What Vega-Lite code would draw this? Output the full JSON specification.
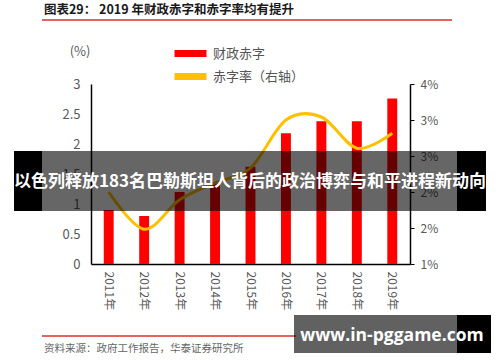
{
  "$schema": "https://vega.github.io/schema/vega-lite/v6.json",
  "width": 319,
  "height": 180,
  "autosize": {"type": "none"},
  "padding": {"left": 91, "top": 84, "right": 90, "bottom": 98},
  "background": "white",
  "config": {"view": {"stroke": null}, "font": "Noto Sans CJK SC"},
  "datasets": {
    "fiscal": [
      {"year": "2011年", "deficit": 0.9, "rate": 2.2},
      {"year": "2012年", "deficit": 0.8, "rate": 1.58},
      {"year": "2013年", "deficit": 1.2, "rate": 2.07},
      {"year": "2014年", "deficit": 1.35, "rate": 2.35},
      {"year": "2015年", "deficit": 1.62, "rate": 2.6},
      {"year": "2016年", "deficit": 2.18, "rate": 3.4},
      {"year": "2017年", "deficit": 2.38, "rate": 3.45},
      {"year": "2018年", "deficit": 2.38, "rate": 2.93},
      {"year": "2019年", "deficit": 2.76, "rate": 3.18}
    ],
    "one": [{}]
  },
  "layer": [
    {
      "data": {"name": "fiscal"},
      "mark": {"type": "bar"},
      "encoding": {
        "x": {"field": "year", "type": "nominal", "sort": null,
          "scale": {"type": "band", "paddingInner": 0.72, "paddingOuter": 0.36},
          "axis": {"title": null, "labelAngle": 90, "labelAlign": "left", "labelBaseline": "middle", "labelPadding": 7, "ticks": false, "domainColor": "#000000", "domainWidth": 1.5, "labelFontSize": 12, "labelColor": "#595959"}},
        "y": {"field": "deficit", "type": "quantitative",
          "scale": {"domain": [0, 3], "nice": false},
          "axis": {"orient": "left", "title": null, "values": [0, 0.5, 1, 1.5, 2, 2.5, 3], "format": "~g", "grid": false, "ticks": false, "labelPadding": 11, "domainColor": "#000000", "domainWidth": 1.5, "labelFontSize": 13, "labelColor": "#595959"}},
        "color": {"datum": "财政赤字", "type": "nominal",
          "scale": {"domain": ["财政赤字", "赤字率（右轴）"], "range": ["#FF0000", "#FFC000"]},
          "legend": {"title": null, "orient": "none", "legendX": 81, "legendY": -37, "direction": "vertical",
            "symbolType": "M-1,-0.85H7V0.85H-1Z", "symbolSize": 64, "symbolStrokeWidth": 0,
            "labelFontSize": 13, "labelColor": "#555555", "labelOffset": 28, "rowPadding": 9, "padding": 0,
            "encode": {"symbols": {"update": {"fill": {"scale": "color", "field": "value"}, "opacity": {"value": 1}}}}}}
      }
    },
    {
      "data": {"name": "fiscal"},
      "mark": {"type": "line", "interpolate": "cardinal", "strokeWidth": 3},
      "encoding": {
        "x": {"field": "year", "type": "nominal", "sort": null, "scale": {"type": "point", "padding": 0.5}, "axis": null},
        "y": {"field": "rate", "type": "quantitative",
          "scale": {"domain": [1, 4], "nice": false, "zero": false},
          "axis": {"orient": "right", "title": null, "values": [1, 1.6, 2.2, 2.8, 3.4, 4], "labelExpr": "round(datum.value) + '%'", "grid": false, "tickSize": 4, "tickColor": "#000000", "domainColor": "#000000", "domainWidth": 1.5, "labelPadding": 6, "labelFontSize": 12, "labelColor": "#595959"}},
        "color": {"datum": "赤字率（右轴）", "type": "nominal"}
      }
    },
    {
      "data": {"name": "one"},
      "mark": {"type": "rule", "color": "#D9302A", "strokeWidth": 1.5},
      "encoding": {
        "x": {"datum": -0.15361, "type": "quantitative", "scale": {"domain": [0, 1], "nice": false, "zero": false}, "axis": null},
        "x2": {"datum": 1.13166},
        "y": {"datum": 4.0667, "type": "quantitative", "scale": {"domain": [0, 3], "nice": false, "zero": false}, "axis": null}
      }
    },
    {
      "data": {"name": "one"},
      "mark": {"type": "rule", "color": "#D9302A", "strokeWidth": 1.5},
      "encoding": {
        "x": {"datum": -0.15361, "type": "quantitative", "scale": {"domain": [0, 1], "nice": false, "zero": false}, "axis": null},
        "x2": {"datum": 0.64263},
        "y": {"datum": -1.2, "type": "quantitative", "scale": {"domain": [0, 3], "nice": false, "zero": false}, "axis": null}
      }
    },
    {
      "data": {"name": "one"},
      "mark": {"type": "text", "text": "图表29： 2019 年财政赤字和赤字率均有提升", "align": "left", "baseline": "middle", "fontSize": 12.5, "fontWeight": "bold", "color": "#1A1A1A"},
      "encoding": {
        "x": {"datum": -0.14734, "type": "quantitative", "scale": {"domain": [0, 1], "nice": false, "zero": false}, "axis": null},
        "y": {"datum": 4.2333, "type": "quantitative", "scale": {"domain": [0, 3], "nice": false, "zero": false}, "axis": null}
      }
    },
    {
      "data": {"name": "one"},
      "mark": {"type": "text", "text": "(%)", "align": "center", "baseline": "middle", "fontSize": 13, "color": "#595959"},
      "encoding": {
        "x": {"datum": -0.03448, "type": "quantitative", "scale": {"domain": [0, 1], "nice": false, "zero": false}, "axis": null},
        "y": {"datum": 3.5333, "type": "quantitative", "scale": {"domain": [0, 3], "nice": false, "zero": false}, "axis": null}
      }
    },
    {
      "data": {"name": "one"},
      "mark": {"type": "text", "text": "资料来源：政府工作报告，华泰证券研究所", "align": "left", "baseline": "middle", "fontSize": 10.5, "color": "#666666"},
      "encoding": {
        "x": {"datum": -0.14734, "type": "quantitative", "scale": {"domain": [0, 1], "nice": false, "zero": false}, "axis": null},
        "y": {"datum": -1.4167, "type": "quantitative", "scale": {"domain": [0, 3], "nice": false, "zero": false}, "axis": null}
      }
    },
    {
      "data": {"name": "one"},
      "mark": {"type": "rect", "color": "#000000", "opacity": 0.6},
      "encoding": {
        "x": {"datum": -0.15361, "type": "quantitative", "scale": {"domain": [0, 1], "nice": false, "zero": false}, "axis": null},
        "x2": {"datum": 1.14734},
        "y": {"datum": 1.8833, "type": "quantitative", "scale": {"domain": [0, 3], "nice": false, "zero": false}, "axis": null},
        "y2": {"datum": 0.8833}
      }
    },
    {
      "data": {"name": "one"},
      "mark": {"type": "rect", "color": "#000000"},
      "encoding": {
        "x": {"datum": -0.24138, "type": "quantitative", "scale": {"domain": [0, 1], "nice": false, "zero": false}, "axis": null},
        "x2": {"datum": -0.15361},
        "y": {"datum": 1.8833, "type": "quantitative", "scale": {"domain": [0, 3], "nice": false, "zero": false}, "axis": null},
        "y2": {"datum": 0.8833}
      }
    },
    {
      "data": {"name": "one"},
      "mark": {"type": "rect", "color": "#000000"},
      "encoding": {
        "x": {"datum": 1.14734, "type": "quantitative", "scale": {"domain": [0, 1], "nice": false, "zero": false}, "axis": null},
        "x2": {"datum": 1.23824},
        "y": {"datum": 1.8833, "type": "quantitative", "scale": {"domain": [0, 3], "nice": false, "zero": false}, "axis": null},
        "y2": {"datum": 0.8833}
      }
    },
    {
      "data": {"name": "one"},
      "mark": {"type": "text", "text": "以色列释放183名巴勒斯坦人背后的政治博弈与和平进程新动向", "align": "center", "baseline": "middle", "fontSize": 17, "fontWeight": "bold", "color": "#FFFFFF"},
      "encoding": {
        "x": {"datum": 0.49843, "type": "quantitative", "scale": {"domain": [0, 1], "nice": false, "zero": false}, "axis": null},
        "y": {"datum": 1.3667, "type": "quantitative", "scale": {"domain": [0, 3], "nice": false, "zero": false}, "axis": null}
      }
    },
    {
      "data": {"name": "one"},
      "mark": {"type": "rect", "color": "#000000", "opacity": 0.62},
      "encoding": {
        "x": {"datum": 0.63636, "type": "quantitative", "scale": {"domain": [0, 1], "nice": false, "zero": false}, "axis": null},
        "x2": {"datum": 1.14734},
        "y": {"datum": -0.85, "type": "quantitative", "scale": {"domain": [0, 3], "nice": false, "zero": false}, "axis": null},
        "y2": {"datum": -1.4833}
      }
    },
    {
      "data": {"name": "one"},
      "mark": {"type": "rect", "color": "#000000"},
      "encoding": {
        "x": {"datum": 1.14734, "type": "quantitative", "scale": {"domain": [0, 1], "nice": false, "zero": false}, "axis": null},
        "x2": {"datum": 1.25392},
        "y": {"datum": -0.85, "type": "quantitative", "scale": {"domain": [0, 3], "nice": false, "zero": false}, "axis": null},
        "y2": {"datum": -1.4833}
      }
    },
    {
      "data": {"name": "one"},
      "mark": {"type": "text", "text": "www.in-pggame.com", "align": "center", "baseline": "middle", "fontSize": 17.5, "fontWeight": "bold", "color": "#FFFFFF", "font": "Open Sans"},
      "encoding": {
        "x": {"datum": 0.94357, "type": "quantitative", "scale": {"domain": [0, 1], "nice": false, "zero": false}, "axis": null},
        "y": {"datum": -1.2, "type": "quantitative", "scale": {"domain": [0, 3], "nice": false, "zero": false}, "axis": null}
      }
    }
  ],
  "resolve": {"scale": {"x": "independent", "y": "independent"}}
}
